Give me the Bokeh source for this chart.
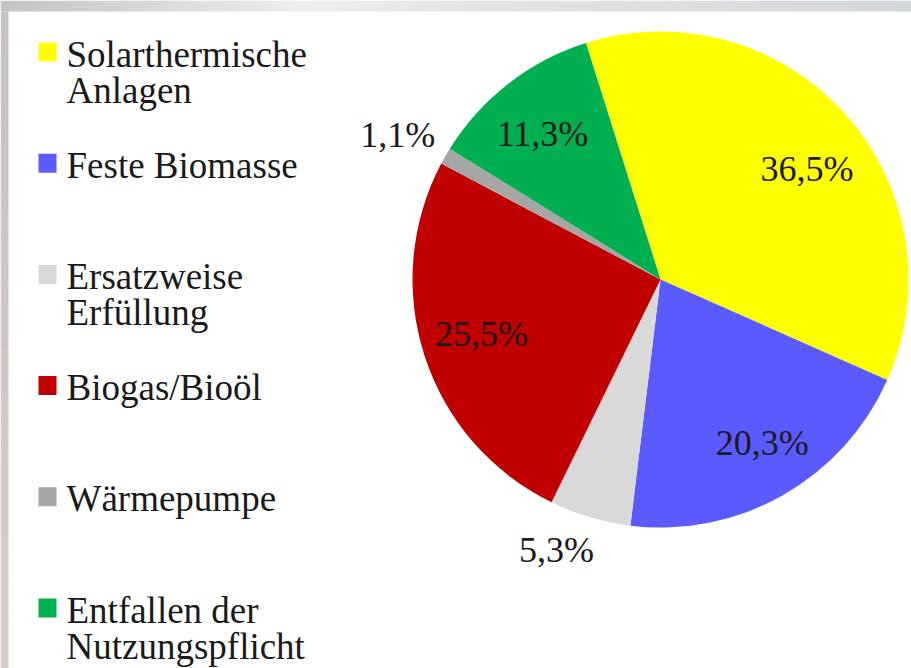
import numpy as np
from bokeh.plotting import figure
from bokeh.models import Range1d, ColumnDataSource
from bokeh.core.properties import value
from bokeh.embed import file_html
from bokeh.resources import INLINE

# ---- data ----
categories = ["Solarthermische\nAnlagen", "Feste Biomasse", "Ersatzweise\nErfüllung",
              "Biogas/Bioöl", "Wärmepumpe", "Entfallen der\nNutzungspflicht"]
shares = [36.5, 20.3, 5.3, 25.5, 1.1, 11.3]
share_labels = ["36,5%", "20,3%", "5,3%", "25,5%", "1,1%", "11,3%"]
colors = ["#FFFF00", "#5A5AFF", "#D9D9D9", "#C00000", "#A6A6A6", "#00B050"]

# ---- layout (page pixels, y measured from top) ----
W, H = 911, 668
cx, cy, R = 660, 279, 248
start_top = -17.5  # degrees clockwise from 12 o'clock
label_r = [0.74, 0.775, 1.17, 0.754, 1.21, 0.754]
label_nudge = [4.8, -2.4, 4.5, 1.2, -1.0, -1.3]
FONT = value("Liberation Serif")
TXT = "#1a1a1a"


def Y(y):
    return H - np.asarray(y, dtype=float)


p = figure(width=W, height=H, x_range=Range1d(0, W), y_range=Range1d(0, H),
           output_backend="svg", toolbar_location=None, min_border=0,
           x_axis_location=None, y_axis_location=None)
p.outline_line_color = None
p.xgrid.visible = False
p.ygrid.visible = False
p.background_fill_color = "white"
p.border_fill_color = "white"

# ---- decorative grey frame (top band and left band) ----
def mix(c1, c2, t):
    a = np.array([int(c1[i:i + 2], 16) for i in (1, 3, 5)])
    b = np.array([int(c2[i:i + 2], 16) for i in (1, 3, 5)])
    c = (a + (b - a) * t).round().astype(int)
    return "#%02x%02x%02x" % tuple(c)

stops_x = [0, 300, 460, 911]
stops_c = ["#c4c4c4", "#eeeeee", "#e2e4e6", "#d2d7db"]
seg_edges = np.linspace(0, W, 92)
band_cols = []
for x0 in seg_edges[:-1]:
    k = max(i for i in range(len(stops_x) - 1) if stops_x[i] <= x0)
    t = (x0 - stops_x[k]) / (stops_x[k + 1] - stops_x[k])
    band_cols.append(mix(stops_c[k], stops_c[k + 1], min(t, 1)))
p.quad(left=seg_edges[:-1], right=seg_edges[1:] + 0.5, top=H, bottom=Y(11),
       fill_color=band_cols, line_color=None)
v_edges = np.linspace(11, H, 30)
left_cols = [mix("#c6c3c3", "#d8cbcb", t) for t in np.linspace(0, 1, 29)]
p.quad(left=0, right=8, top=Y(v_edges[:-1]), bottom=Y(v_edges[1:]) - 0.5,
       fill_color=left_cols, line_color=None)

# ---- pie ----
frac = np.array(shares) / sum(shares)
cum = np.concatenate([[0.0], np.cumsum(frac)])
start = np.radians(90 - (start_top + cum[:-1] * 360))
end = np.radians(90 - (start_top + cum[1:] * 360))

pie = ColumnDataSource(dict(start=start, end=end, color=colors))
p.wedge(x=cx, y=float(Y(cy)), radius=R, start_angle="start", end_angle="end",
        direction="clock", fill_color="color", line_color=None, source=pie)

mid = start_top + (cum[:-1] + cum[1:]) / 2 * 360 + np.array(label_nudge)
ang = np.radians(mid)
lx = cx + R * np.array(label_r) * np.sin(ang)
ly = Y(cy) + R * np.array(label_r) * np.cos(ang)
p.text(x=lx, y=ly, text=share_labels, text_font=FONT, text_font_size="36px",
       text_color=TXT, text_align="center", text_baseline="middle")

# ---- legend (manual) ----
first_base = 66
step = 111.2
line_gap = 36.5
cap_mid = 12.5
sq_x0, sq_x1 = 38, 56
text_x = 66
q_top, q_bot, tx, ty, tt = [], [], [], [], []
for i, cat in enumerate(categories):
    base = first_base + step * i
    q_top.append(float(Y(base - 24)))
    q_bot.append(float(Y(base - 5)))
    for j, line in enumerate(cat.split("\n")):
        tx.append(text_x)
        ty.append(float(Y(base + j * line_gap - cap_mid)))
        tt.append(line)
p.quad(left=sq_x0, right=sq_x1, top=q_top, bottom=q_bot, fill_color=colors, line_color=None)
p.text(x=tx, y=ty, text=tt, text_font=FONT, text_font_size="37px",
       text_color=TXT, text_align="left", text_baseline="middle")

open("out.html", "w").write(file_html(p, INLINE))
